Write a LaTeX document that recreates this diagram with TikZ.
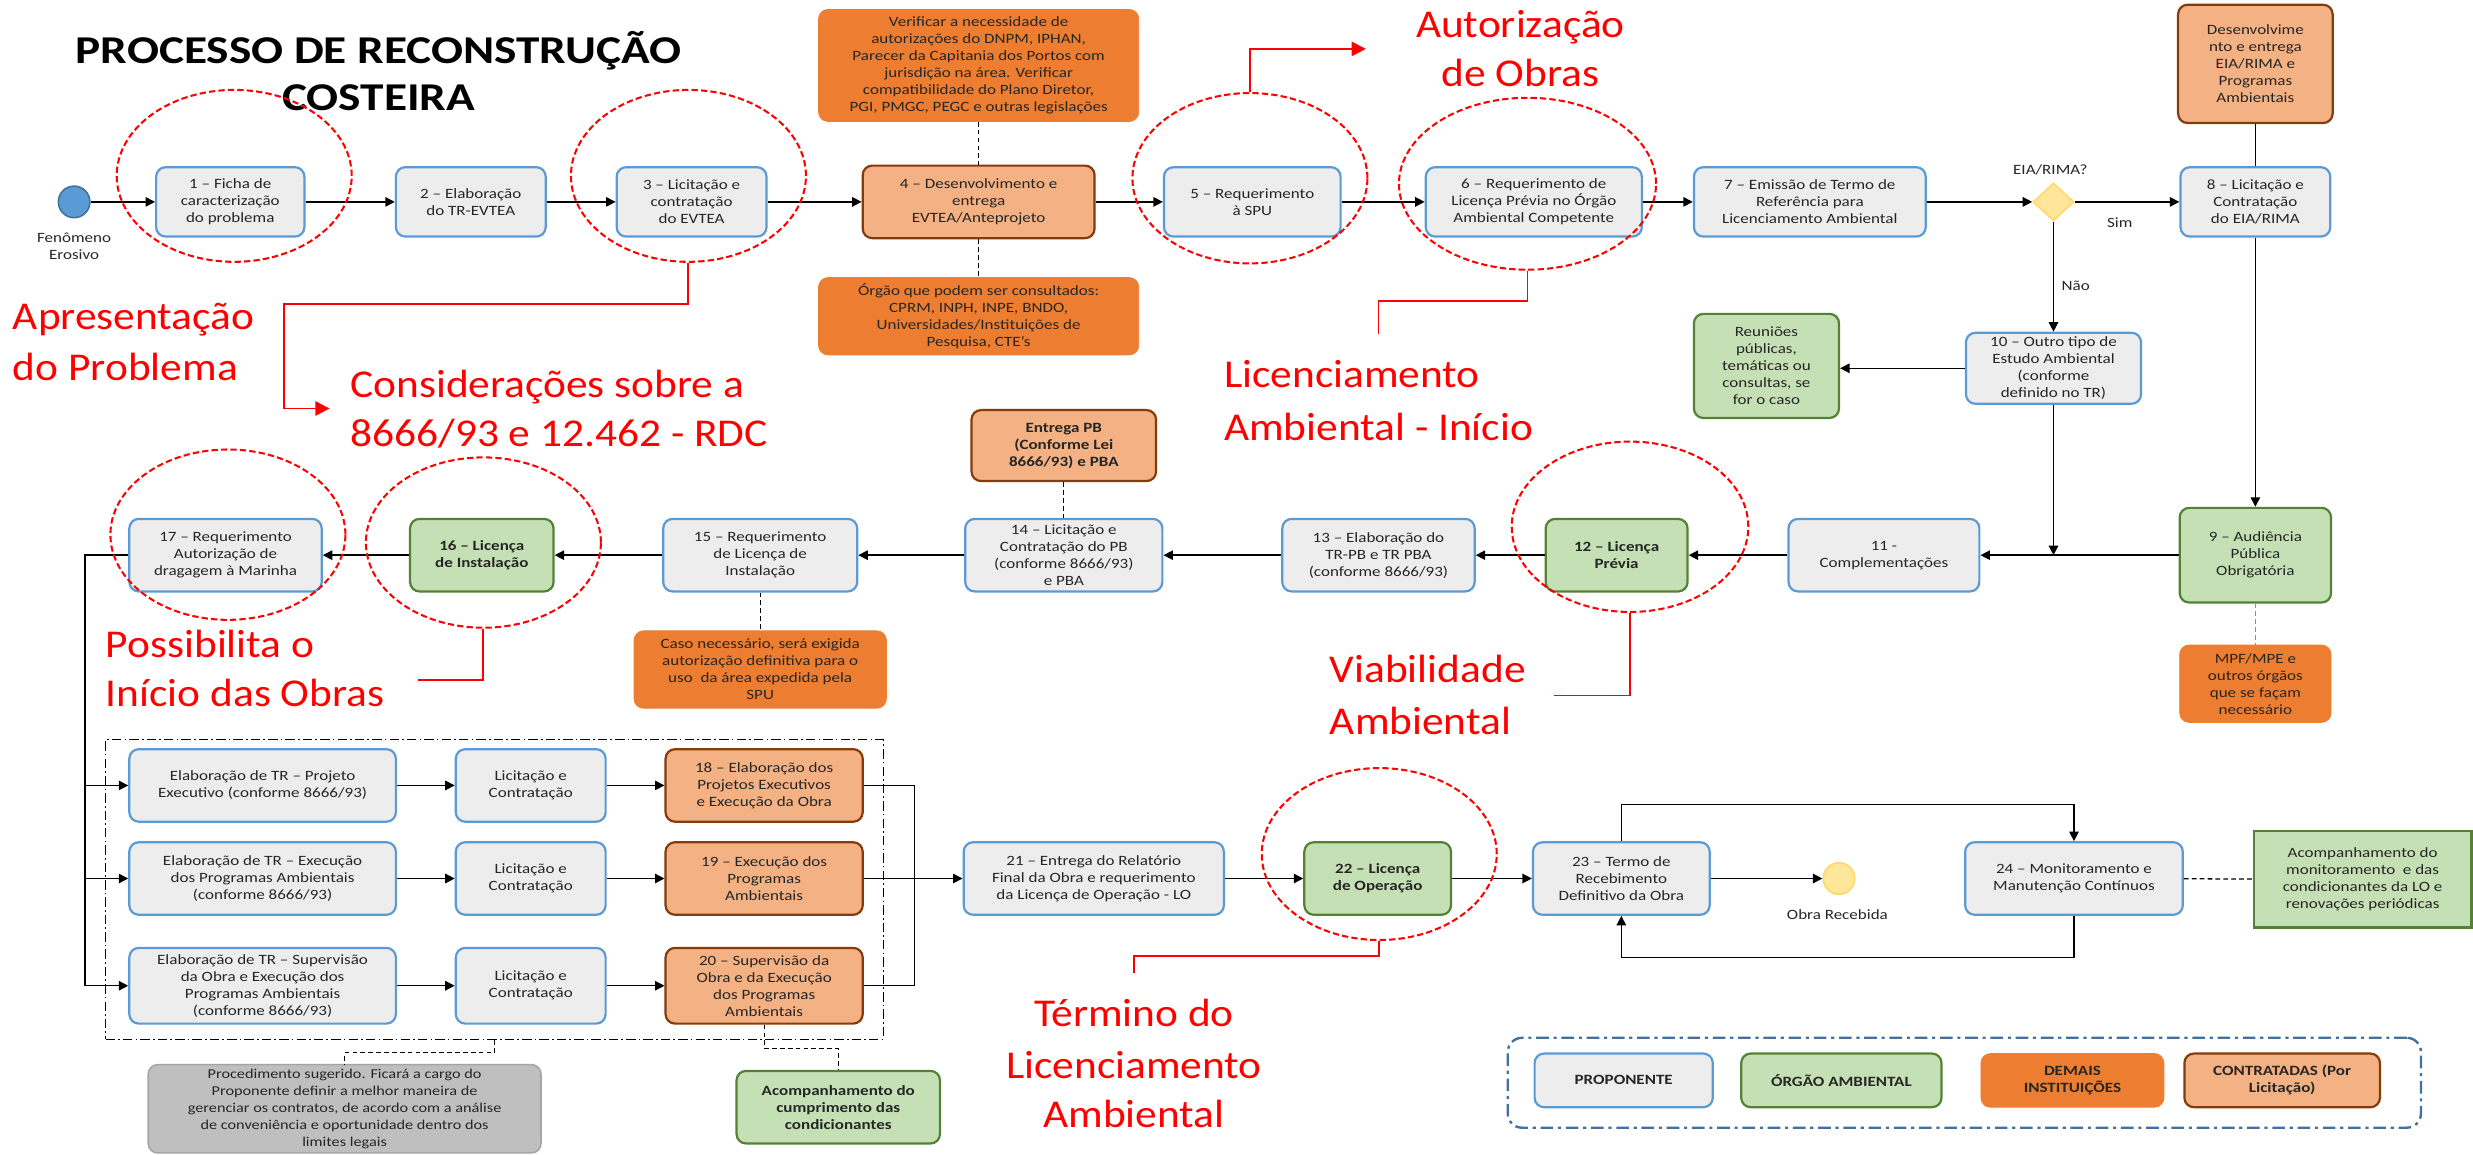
\documentclass[tikz,border=0pt]{standalone}
\usepackage{fontspec}
\setmainfont{Carlito}[FakeStretch=1.2]
\newfontfamily\redfam{Carlito}[FakeStretch=1.1]
\usetikzlibrary{arrows.meta,shapes.geometric}
\definecolor{propF}{HTML}{EDEDED}
\definecolor{propD}{HTML}{5B9BD5}
\definecolor{orgF}{HTML}{C5E0B4}
\definecolor{orgD}{HTML}{538135}
\definecolor{demF}{HTML}{ED7D31}
\definecolor{conF}{HTML}{F4B183}
\definecolor{conD}{HTML}{843C0C}
\definecolor{grayF}{HTML}{BFBFBF}
\definecolor{grayD}{HTML}{A5A5A5}
\definecolor{yelF}{HTML}{FFE699}
\definecolor{yelD}{HTML}{FFD966}
\definecolor{startD}{HTML}{41719C}
\definecolor{txt}{HTML}{262626}
\definecolor{legD}{HTML}{41719C}
\newcommand\boxfnt{\fontsize{9}{10.8}\selectfont}
\newcommand\redfnt{\redfam\fontsize{25}{31}\selectfont}
\begin{document}
\begin{tikzpicture}[x=1pt,y=-1pt,
  box/.style={rounded corners=6pt, align=center, inner sep=1pt, font=\boxfnt, text=txt, line width=1.4pt},
  prop/.style={box, draw=propD, fill=propF},
  org/.style={box, draw=orgD, fill=orgF},
  dem/.style={box, draw=demF, fill=demF, line width=0.5pt},
  con/.style={box, draw=conD, fill=conF},
  conn/.style={line width=0.9pt, draw=black},
  arr/.style={conn, -{Triangle[length=6pt,width=6pt]}},
  dsh/.style={line width=0.8pt, draw=black, dash pattern=on 3pt off 2pt},
  ring/.style={ellipse, draw=red, line width=1.3pt, dash pattern=on 4pt off 2pt, inner sep=0},
  redline/.style={draw=red, line width=1.2pt},
  redarr/.style={redline, -{Triangle[length=9pt,width=9pt]}},
  rt/.style={text=red, font=\redfnt, inner sep=0},
  lbl/.style={font=\boxfnt, text=txt, inner sep=0, align=center},
]
\fill[white] (0,0) rectangle (1568,732);
\useasboundingbox (0,0) rectangle (1568,732);

% title
\node[font=\bfseries\fontsize{25}{31}\selectfont, anchor=base, inner sep=0] (title1) at (240,40) {PROCESSO DE RECONSTRUÇÃO};
\node[font=\bfseries\fontsize{25}{31}\selectfont, anchor=base, inner sep=0] (title2) at (240,70) {COSTEIRA};

% ---------- row 1
\node[circle, draw=startD, fill=propD, line width=1pt, minimum size=20pt, inner sep=0] (start) at (47,128) {};
\node[lbl] (startlbl) at (47,156) {Fenômeno\\Erosivo};
\node[prop, minimum width=94pt, minimum height=44pt] (b1) at (146,128) {1 – Ficha de\\caracterização\\do problema};
\node[prop, minimum width=95pt, minimum height=44pt] (b2) at (298.5,128) {2 – Elaboração\\do TR-EVTEA};
\node[prop, minimum width=95pt, minimum height=44pt] (b3) at (438.5,128) {3 – Licitação e\\contratação\\do EVTEA};
\node[con, minimum width=147pt, minimum height=46pt] (b4) at (620.5,128) {4 – Desenvolvimento e\\entrega\\EVTEA/Anteprojeto};
\node[dem, minimum width=203pt, minimum height=71pt] (topO) at (620.5,41.5) {Verificar a necessidade de\\autorizações do DNPM, IPHAN,\\Parecer da Capitania dos Portos com\\jurisdição na área. Verificar\\compatibilidade do Plano Diretor,\\PGI, PMGC, PEGC e outras legislações};
\node[dem, minimum width=203pt, minimum height=49pt] (botO) at (620.5,200.5) {Órgão que podem ser consultados:\\CPRM, INPH, INPE, BNDO,\\Universidades/Instituições de\\Pesquisa, CTE's};
\node[prop, minimum width=112pt, minimum height=44pt] (b5) at (794,128) {5 – Requerimento\\à SPU};
\node[prop, minimum width=137pt, minimum height=44pt] (b6) at (972.5,128) {6 – Requerimento de\\Licença Prévia no Órgão\\Ambiental Competente};
\node[prop, minimum width=147pt, minimum height=44pt] (b7) at (1147.5,128) {7 – Emissão de Termo de\\Referência para\\Licenciamento Ambiental};
\node[diamond, draw=yelD, fill=yelF, line width=1pt, minimum width=26pt, minimum height=24pt, inner sep=0] (dia) at (1302,128) {};
\node[lbl] (dialbl) at (1300,108) {EIA/RIMA?};
\node[prop, minimum width=95pt, minimum height=44pt] (b8) at (1430,128) {8 – Licitação e\\Contratação\\do EIA/RIMA};
\node[con, minimum width=98pt, minimum height=75pt] (devO) at (1430,40.5) {Desenvolvime\\nto e entrega\\EIA/RIMA e\\Programas\\Ambientais};
\node[lbl] (sim) at (1344,141) {Sim};
\node[lbl, anchor=west] (nao) at (1307,181) {Não};
\node[prop, minimum width=111pt, minimum height=45pt] (b10) at (1302,233.5) {10 – Outro tipo de\\Estudo Ambiental\\(conforme\\definido no TR)};
\node[org, minimum width=92pt, minimum height=66pt] (reun) at (1120,232) {Reuniões\\públicas,\\temáticas ou\\consultas, se\\for o caso};
\coordinate (jn) at (1302,352);

% ---------- row 2
\node[prop, minimum width=122pt, minimum height=46pt] (b17) at (143,352) {17 – Requerimento\\Autorização de\\dragagem à Marinha};
\node[org, minimum width=91pt, minimum height=46pt, font=\boxfnt\bfseries] (b16) at (305.5,352) {16 – Licença\\de Instalação};
\node[prop, minimum width=123pt, minimum height=46pt] (b15) at (482,352) {15 – Requerimento\\de Licença de\\Instalação};
\node[dem, minimum width=160pt, minimum height=49pt] (caso) at (482,424.5) {Caso necessário, será exigida\\autorização definitiva para o\\uso\ \ da área expedida pela\\SPU};
\node[con, minimum width=117pt, minimum height=45pt, font=\boxfnt\bfseries] (entrega) at (674.5,282.5) {Entrega PB\\(Conforme Lei\\8666/93) e PBA};
\node[prop, minimum width=125pt, minimum height=46pt] (b14) at (674.5,352) {14 – Licitação e\\Contratação do PB\\(conforme 8666/93)\\e PBA};
\node[prop, minimum width=122pt, minimum height=46pt] (b13) at (874,352) {13 – Elaboração do\\TR-PB e TR PBA\\(conforme 8666/93)};
\node[org, minimum width=90pt, minimum height=46pt, font=\boxfnt\bfseries] (b12) at (1025,352) {12 – Licença\\Prévia};
\node[prop, minimum width=121pt, minimum height=46pt] (b11) at (1194.5,352) {11 -\\Complementações};
\node[org, minimum width=96pt, minimum height=60pt] (b9) at (1430,352) {9 – Audiência\\Pública\\Obrigatória};
\node[dem, minimum width=96pt, minimum height=49pt] (mpf) at (1430,433.5) {MPF/MPE e\\outros órgãos\\que se façam\\necessário};

% ---------- bottom block
\node[draw=black, line width=0.8pt, dash pattern=on 6pt off 2pt on 1pt off 2pt, minimum width=493pt, minimum height=190pt, inner sep=0] (frame) at (313.5,564) {};
\node[prop, minimum width=169pt, minimum height=46pt] (trA) at (166.5,498) {Elaboração de TR – Projeto\\Executivo (conforme 8666/93)};
\node[prop, minimum width=169pt, minimum height=46pt] (trB) at (166.5,557) {Elaboração de TR – Execução\\dos Programas Ambientais\\(conforme 8666/93)};
\node[prop, minimum width=169pt, minimum height=48pt] (trC) at (166.5,625) {Elaboração de TR – Supervisão\\da Obra e Execução dos\\Programas Ambientais\\(conforme 8666/93)};
\node[prop, minimum width=95pt, minimum height=46pt] (licA) at (336.5,498) {Licitação e\\Contratação};
\node[prop, minimum width=95pt, minimum height=46pt] (licB) at (336.5,557) {Licitação e\\Contratação};
\node[prop, minimum width=95pt, minimum height=48pt] (licC) at (336.5,625) {Licitação e\\Contratação};
\node[con, minimum width=125pt, minimum height=46pt] (p18) at (484.5,498) {18 – Elaboração dos\\Projetos Executivos\\e Execução da Obra};
\node[con, minimum width=125pt, minimum height=46pt] (p19) at (484.5,557) {19 – Execução dos\\Programas\\Ambientais};
\node[con, minimum width=125pt, minimum height=48pt] (p20) at (484.5,625) {20 – Supervisão da\\Obra e da Execução\\dos Programas\\Ambientais};
\node[box, draw=grayD, fill=grayF, line width=1pt, minimum width=249pt, minimum height=56pt, font=\fontsize{8.6}{10.8}\selectfont] (gray) at (218.5,703) {Procedimento sugerido. Ficará a cargo do\\Proponente definir a melhor maneira de\\gerenciar os contratos, de acordo com a análise\\de conveniência e oportunidade dentro dos\\limites legais};
\node[org, minimum width=129pt, minimum height=46pt, font=\boxfnt\bfseries] (acc) at (531.5,702) {Acompanhamento do\\cumprimento das\\condicionantes};
\node[prop, minimum width=165pt, minimum height=46pt] (b21) at (693.5,557) {21 – Entrega do Relatório\\Final da Obra e requerimento\\da Licença de Operação - LO};
\node[org, minimum width=93pt, minimum height=46pt, font=\boxfnt\bfseries] (b22) at (873.5,557) {22 – Licença\\de Operação};
\node[prop, minimum width=112pt, minimum height=46pt] (b23) at (1028,557) {23 – Termo de\\Recebimento\\Definitivo da Obra};
\node[circle, draw=yelD, fill=yelF, line width=1pt, minimum size=20pt, inner sep=0] (obra) at (1166,557) {};
\node[lbl] (obralbl) at (1165,580) {Obra Recebida};
\node[prop, minimum width=138pt, minimum height=46pt] (b24) at (1315,557) {24 – Monitoramento e\\Manutenção Contínuos};
\node[org, rounded corners=0pt, minimum width=138pt, minimum height=61pt] (grr) at (1498,557.5) {Acompanhamento do\\monitoramento\ \ e das\\condicionantes da LO e\\renovações periódicas};

% legend
\node[draw=legD, line width=1.5pt, rounded corners=9pt, dash pattern=on 8pt off 3pt on 2pt off 3pt, minimum width=579pt, minimum height=57pt, inner sep=0] (leg) at (1245.5,686.5) {};
\node[prop, minimum width=113pt, minimum height=34pt, font=\boxfnt\bfseries] (lg1) at (1029.5,685) {PROPONENTE};
\node[org, minimum width=127pt, minimum height=34pt, font=\boxfnt\bfseries] (lg2) at (1167.5,685) {ÓRGÃO AMBIENTAL};
\node[dem, minimum width=116pt, minimum height=34pt, font=\boxfnt\bfseries] (lg3) at (1314,685) {DEMAIS\\INSTITUIÇÕES};
\node[con, minimum width=124pt, minimum height=34pt, font=\boxfnt\bfseries] (lg4) at (1447,685) {CONTRATADAS (Por\\Licitação)};

% ---------- connectors
\draw[arr] (start) -- (b1);
\draw[arr] (b1) -- (b2);
\draw[arr] (b2) -- (b3);
\draw[arr] (b3) -- (b4);
\draw[arr] (b4) -- (b5);
\draw[arr] (b5) -- (b6);
\draw[arr] (b6) -- (b7);
\draw[arr] (b7) -- (dia);
\draw[arr] (dia) -- (b8);
\draw[arr] (dia) -- (b10);
\draw[conn] (devO) -- (b8);
\draw[arr] (b8) -- (b9);
\draw[arr] (b10.west) -- (b10.west -| reun.east);
\draw[arr] (b10) -- (jn);
\draw[dsh] (topO) -- (b4);
\draw[dsh] (b4) -- (botO);
\draw[arr] (b9) -- (b11);
\draw[arr] (b11) -- (b12);
\draw[arr] (b12) -- (b13);
\draw[arr] (b13) -- (b14);
\draw[arr] (b14) -- (b15);
\draw[arr] (b15) -- (b16);
\draw[arr] (b16) -- (b17);
\draw[dsh] (entrega) -- (b14);
\draw[dsh] (b15) -- (caso);
\draw[line width=0.8pt, draw=propD, dash pattern=on 3pt off 2pt] (b9) -- (mpf);

\coordinate (la) at (54,498);
\coordinate (lb) at (54,557);
\coordinate (lc) at (54,625);
\draw[conn] (b17.west) -| (lc);
\draw[arr] (la) -- (trA);
\draw[arr] (lb) -- (trB);
\draw[arr] (lc) -- (trC);
\draw[arr] (trA) -- (licA);
\draw[arr] (trB) -- (licB);
\draw[arr] (trC) -- (licC);
\draw[arr] (licA) -- (p18);
\draw[arr] (licB) -- (p19);
\draw[arr] (licC) -- (p20);
\coordinate (ba) at (580,498);
\coordinate (bc) at (580,625);
\draw[conn] (p18) -- (ba) -- (bc) -- (p20);
\draw[arr] (p19) -- (b21);
\draw[arr] (b21) -- (b22);
\draw[arr] (b22) -- (b23);
\draw[arr] (b23) -- (obra);
\coordinate (lt1) at (1028,510);
\coordinate (lb2) at (1315,607);
\draw[arr] (b23.north) -- (lt1) -| (b24.north);
\draw[arr] (b24.south) -- (lb2) -| (b23.south);
\draw[dsh] (b24) -- (grr);
\draw[dsh] (frame.south) -- ++(0,8) -| (gray.north);
\draw[dsh] (p20.south) -- ++(0,15) -| (acc.north);

% ---------- red annotations
\node[ring, minimum width=149pt, minimum height=109pt] (r1) at (148.5,111.5) {};
\node[ring, minimum width=149pt, minimum height=109pt] (r3) at (436.5,111.5) {};
\node[ring, minimum width=149pt, minimum height=108pt] (r5) at (792.5,113) {};
\node[ring, minimum width=163pt, minimum height=109pt] (r6) at (968.5,116.5) {};
\node[ring, minimum width=149pt, minimum height=108pt] (r17) at (144.5,339) {};
\node[ring, minimum width=149pt, minimum height=108pt] (r16) at (306.5,344) {};
\node[ring, minimum width=150pt, minimum height=108pt] (r12) at (1033.5,334) {};
\node[ring, minimum width=149pt, minimum height=109pt] (r22) at (874.5,541.5) {};

\coordinate (ra1) at (209,259);
\coordinate (ra2) at (866,31);
\coordinate (rl3) at (874,212);
\coordinate (rl4) at (265,431);
\coordinate (rl5) at (985,441);
\coordinate (rl6) at (719,617);
\draw[redarr] (r3.south) |- (180,193) -- (180,259) -- (ra1);
\draw[redarr] (r5.north) |- (ra2);
\draw[redline] (r6.south) |- (874,191) -- (rl3);
\draw[redline] (r16.south) |- (rl4);
\draw[redline] (r12.south) |- (rl5);
\draw[redline] (r22.south) |- (719,606) -- (rl6);

\node[rt, anchor=base west] (ta1) at (8,209) {Apresentação};
\node[rt, anchor=base west] (ta2) at (8,241) {do Problema};
\node[rt, anchor=base west] (tc1) at (222,252) {Considerações sobre a};
\node[rt, anchor=base west] (tc2) at (222,283) {8666/93 e 12.462 - RDC};
\node[rt, anchor=base] (tau1) at (964,24) {Autorização};
\node[rt, anchor=base] (tau2) at (964,55) {de Obras};
\node[rt, anchor=base west] (tl1) at (776,246) {Licenciamento};
\node[rt, anchor=base west] (tl2) at (776,279) {Ambiental - Início};
\node[rt, anchor=base west] (tp1) at (67,417) {Possibilita o};
\node[rt, anchor=base west] (tp2) at (67,448) {Início das Obras};
\node[rt, anchor=base west] (tv1) at (843,433) {Viabilidade};
\node[rt, anchor=base west] (tv2) at (843,466) {Ambiental};
\node[rt, anchor=base] (tt1) at (719,651) {Término do};
\node[rt, anchor=base] (tt2) at (719,684) {Licenciamento};
\node[rt, anchor=base] (tt3) at (719,715) {Ambiental};
\end{tikzpicture}
\end{document}
